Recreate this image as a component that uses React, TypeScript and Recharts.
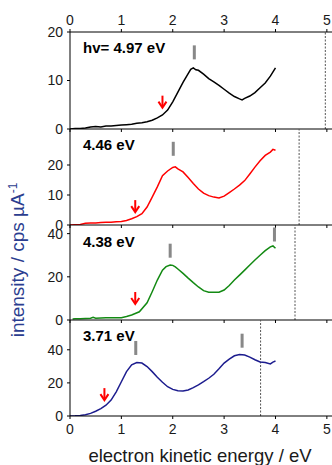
import React from 'react';
import { ComposedChart, Line, XAxis, YAxis, ReferenceLine, Scatter } from 'recharts';

const xTicks = [0, 1, 2, 3, 4, 5];
const photonEnergies = [4.97, 4.46, 4.38, 3.71];
const panelLabels = ['hv= 4.97 eV', '4.46 eV', '4.38 eV', '3.71 eV'];
const lineColors = ['#000000', '#ff0000', '#138a13', '#1c1c8e'];
const yDomains: number[][] = [[0, 20], [0, 32], [0, 44], [0, 58]];
const yTicks: number[][] = [[0, 10, 20], [0, 10, 20], [0, 20, 40], [0, 20, 40]];

// panel 1: hv = 4.97 eV
const e1 = [0, 0.1, 0.2, 0.3, 0.4, 0.5, 0.6, 0.7, 0.8, 0.9, 1.0, 1.1, 1.2, 1.3, 1.4, 1.5, 1.6, 1.7, 1.8, 1.9, 2.0, 2.1, 2.2, 2.3, 2.35, 2.4, 2.45, 2.5, 2.6, 2.7, 2.8, 2.9, 3.0, 3.1, 3.2, 3.3, 3.35, 3.4, 3.5, 3.6, 3.7, 3.8, 3.9, 4.0];
const i1 = [0.0, 0.1, 0.1, 0.2, 0.4, 0.5, 0.4, 0.6, 0.6, 0.7, 0.8, 0.9, 1.0, 1.2, 1.3, 1.5, 1.8, 2.3, 2.9, 3.9, 5.6, 7.6, 9.6, 11.4, 12.3, 12.6, 12.2, 12.1, 11.3, 10.4, 9.7, 9.0, 8.2, 7.4, 6.7, 6.2, 6.0, 6.3, 6.8, 7.5, 8.5, 9.5, 10.9, 12.6];
// panel 2: 4.46 eV
const e2 = [0, 0.1, 0.2, 0.3, 0.4, 0.5, 0.6, 0.7, 0.8, 0.9, 1.0, 1.1, 1.2, 1.3, 1.4, 1.5, 1.6, 1.7, 1.8, 1.9, 2.0, 2.05, 2.1, 2.2, 2.3, 2.4, 2.5, 2.6, 2.7, 2.8, 2.9, 3.0, 3.1, 3.2, 3.3, 3.4, 3.5, 3.6, 3.7, 3.8, 3.9, 3.95, 4.0];
const i2 = [0.0, 0.1, 0.2, 0.6, 0.7, 0.7, 0.8, 0.9, 0.9, 1.1, 1.2, 1.5, 2.1, 2.8, 3.8, 6.0, 9.3, 12.7, 16.4, 18.0, 19.2, 19.4, 18.7, 17.7, 15.8, 13.8, 12.0, 10.6, 9.8, 9.3, 9.0, 9.6, 10.8, 12.0, 13.3, 14.8, 17.0, 19.3, 21.4, 23.2, 24.3, 25.2, 24.9];
// panel 3: 4.38 eV
const e3 = [0.05, 0.1, 0.2, 0.3, 0.4, 0.45, 0.5, 0.6, 0.7, 0.8, 0.9, 1.0, 1.1, 1.2, 1.35, 1.5, 1.6, 1.7, 1.8, 1.87, 1.95, 2.0, 2.05, 2.1, 2.2, 2.3, 2.4, 2.5, 2.6, 2.7, 2.8, 2.9, 3.0, 3.1, 3.2, 3.3, 3.4, 3.5, 3.6, 3.7, 3.8, 3.9, 3.95, 4.0];
const i3 = [0.5, 0.6, 0.6, 0.7, 0.8, 1.2, 0.8, 0.9, 1.0, 1.0, 1.1, 1.1, 1.6, 2.3, 3.8, 8.0, 13.1, 18.5, 23.1, 24.7, 25.5, 25.3, 24.6, 23.6, 21.6, 19.4, 17.3, 15.3, 13.6, 12.9, 12.8, 12.9, 13.9, 16.0, 18.5, 20.8, 23.1, 25.5, 27.8, 30.0, 32.1, 33.9, 34.3, 33.2];
// panel 4: 3.71 eV
const e4 = [0, 0.1, 0.2, 0.3, 0.4, 0.5, 0.6, 0.7, 0.8, 0.9, 1.0, 1.1, 1.2, 1.3, 1.4, 1.5, 1.6, 1.7, 1.8, 1.9, 2.0, 2.1, 2.2, 2.3, 2.4, 2.5, 2.6, 2.7, 2.8, 2.9, 3.0, 3.1, 3.2, 3.3, 3.4, 3.5, 3.6, 3.7, 3.8, 3.9, 3.95, 4.0];
const i4 = [0.0, 0.1, 0.3, 0.8, 1.6, 2.9, 4.5, 6.5, 9.6, 14.6, 20.7, 26.8, 30.9, 32.3, 32.0, 29.9, 26.8, 23.4, 20.4, 17.7, 16.1, 15.2, 15.1, 15.7, 17.1, 18.8, 20.7, 22.8, 25.2, 28.5, 32.0, 34.4, 36.4, 37.2, 36.8, 35.6, 34.0, 32.6, 32.3, 31.5, 32.6, 33.2];

// onset arrows (tip position) and peak marker bars (centre)
const arrowE = [1.8, 1.27, 1.27, 0.67];
const arrowI = [4.4, 4.3, 7.4, 9.6];
const barsE: number[][] = [[2.42], [2.01], [1.95, 3.98], [1.28, 3.35]];
const barsI: number[][] = [[15.8], [25.4], [32.1, 39.6], [41.1, 45.5]];

const energies = [e1, e2, e3, e4];
const intensities = [i1, i2, i3, i4];

const plotTop = [32, 129, 225, 320];
const plotBottom = [129, 225, 320, 416];

const FONT = '"Liberation Sans", Arial, sans-serif';
const tickStyle = { fontSize: 14, fill: '#1a1a1a', fontFamily: FONT };

const Arrow = (props: any) => {
  const { cx, cy } = props;
  if (cx == null || cy == null) return null;
  return (
    <g stroke="#ff0000" strokeWidth={2} fill="none">
      <line x1={cx} y1={cy - 12} x2={cx} y2={cy - 1} />
      <polyline points={`${cx - 4},${cy - 6} ${cx},${cy} ${cx + 4},${cy - 6}`} />
    </g>
  );
};

const Bar = (props: any) => {
  const { cx, cy } = props;
  if (cx == null || cy == null) return null;
  return <rect x={cx - 1.5} y={cy - 7} width={3} height={14} fill="#888888" />;
};

function Panel({ k }: { k: number }) {
  const data = energies[k].map((x, j) => ({ x, y: intensities[k][j] }));
  const arrows = [{ x: arrowE[k], y: arrowI[k] }];
  const bars = barsE[k].map((x, j) => ({ x, y: barsI[k][j] }));
  const isTop = k === 0;
  const isBottom = k === 3;
  const topH = isTop ? 32 : 0;
  const botH = isBottom ? 40 : 14;
  const plotH = plotBottom[k] - plotTop[k];
  const height = topH + plotH + botH;
  const top = plotTop[k] - topH;
  return (
    <div style={{ position: 'absolute', left: 0, top }}>
      <ComposedChart width={332} height={height} data={data} margin={{ top: 0, right: 0, bottom: 0, left: 0 }}>
        {isTop && (
          <XAxis
            xAxisId="top"
            orientation="top"
            type="number"
            dataKey="x"
            domain={[0, 5.1]}
            ticks={xTicks}
            allowDataOverflow
            height={32}
            tickSize={3}
            tickMargin={4}
            tick={tickStyle}
            axisLine={{ stroke: '#000' }}
            tickLine={{ stroke: '#000' }}
            interval={0}
          />
        )}
        <XAxis
          xAxisId={0}
          type="number"
          dataKey="x"
          domain={[0, 5.1]}
          ticks={xTicks}
          allowDataOverflow
          height={botH}
          tickSize={3}
          tickMargin={5}
          tick={tickStyle}
          tickFormatter={isBottom ? undefined : () => ''}
          axisLine={{ stroke: '#000' }}
          tickLine={{ stroke: '#000' }}
          interval={0}
        />
        <YAxis
          yAxisId={0}
          type="number"
          dataKey="y"
          domain={yDomains[k]}
          ticks={yTicks[k]}
          allowDataOverflow
          width={70}
          tickSize={3}
          tickMargin={4}
          tick={tickStyle}
          axisLine={{ stroke: '#000' }}
          tickLine={{ stroke: '#000' }}
          interval={0}
        />
        <ReferenceLine x={photonEnergies[k]} xAxisId={0} yAxisId={0} stroke="#555" strokeWidth={1} strokeDasharray="2 1.5" />
        <Line
          xAxisId={0}
          yAxisId={0}
          type="linear"
          dataKey="y"
          stroke={lineColors[k]}
          strokeWidth={1.5}
          dot={false}
          isAnimationActive={false}
        />
        <Scatter xAxisId={0} yAxisId={0} data={bars} dataKey="y" shape={Bar} isAnimationActive={false} />
        <Scatter xAxisId={0} yAxisId={0} data={arrows} dataKey="y" shape={Arrow} isAnimationActive={false} />
      </ComposedChart>
    </div>
  );
}

const labelBaselines = [53, 150, 247, 341];

export default function App() {
  return (
    <div style={{ position: 'absolute', left: 0, top: 0, width: 332, height: 465, background: '#fff', overflow: 'hidden' }}>
      {[0, 1, 2, 3].map((k) => (
        <Panel key={k} k={k} />
      ))}
      <svg width={332} height={465} style={{ position: 'absolute', left: 0, top: 0, pointerEvents: 'none' }}>
        {panelLabels.map((t, k) => (
          <text key={t} x={83} y={labelBaselines[k]} fontFamily={FONT} fontWeight="bold" fontSize={15} fill="#000">
            {t}
          </text>
        ))}
        <text x={200} y={462} textAnchor="middle" fontFamily={FONT} fontSize={18.5} fill="#1a1a1a">
          electron kinetic energy / eV
        </text>
        <text
          x={24}
          y={260}
          textAnchor="middle"
          transform="rotate(-90 24 260)"
          fontFamily={FONT}
          fontSize={19}
          fill="#2b3d8f"
        >
          intensity / cps µA
          <tspan fontSize={12} dy={-7}>-1</tspan>
        </text>
      </svg>
    </div>
  );
}
